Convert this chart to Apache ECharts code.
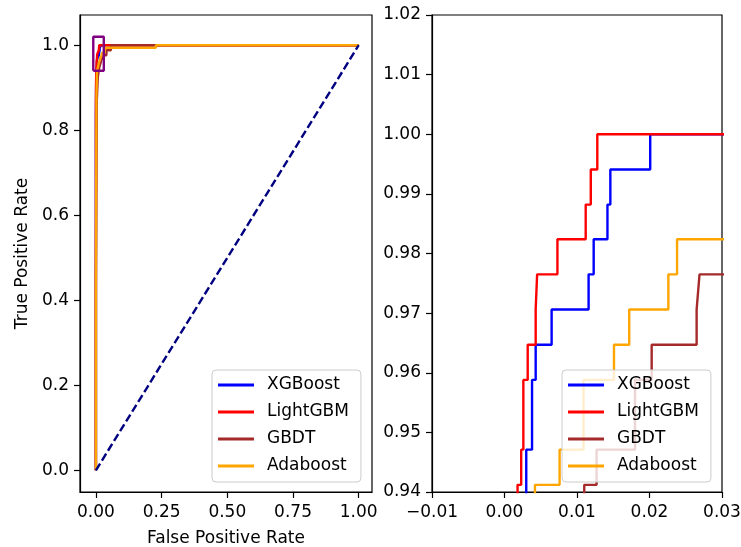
<!DOCTYPE html>
<html>
<head>
<meta charset="utf-8">
<script src="https://cdn.jsdelivr.net/npm/echarts@6/dist/echarts.min.js"></script>
<style>
  html, body { margin: 0; padding: 0; background: #fff; }
  #chart { width: 741px; height: 547px; }
</style>
</head>
<body>
<div id="chart"></div>
<script>
// ROC data (fpr / tpr corner points)
const models = ['XGBoost', 'LightGBM', 'GBDT', 'Adaboost']
const colors = ['#0000ff', '#ff0000', '#a52a2a', '#ffa500']

const xgbFpr = [0, 0, 0.0009, 0.0009, 0.0018, 0.0018, 0.0030, 0.0030, 0.0038, 0.0038, 0.0043, 0.0043, 0.0065, 0.0065, 0.0116, 0.0116, 0.0123, 0.0123, 0.0142, 0.0142, 0.0146, 0.0146, 0.0201, 0.0201, 1.0]
const xgbTpr = [0, 0.8235, 0.8235, 0.9059, 0.9059, 0.9294, 0.9294, 0.9471, 0.9471, 0.9588, 0.9588, 0.9647, 0.9647, 0.9706, 0.9706, 0.9765, 0.9765, 0.9824, 0.9824, 0.9882, 0.9882, 0.9941, 0.9941, 1.0, 1.0]

const lgbFpr = [0, 0, 0.0007, 0.0007, 0.0014, 0.0014, 0.0018, 0.0018, 0.0023, 0.0023, 0.0026, 0.0026, 0.0032, 0.0032, 0.0043, 0.0043, 0.0045, 0.0045, 0.0073, 0.0073, 0.0112, 0.0112, 0.0119, 0.0119, 0.0128, 0.0128, 1.0]
const lgbTpr = [0, 0.8647, 0.8647, 0.9176, 0.9176, 0.9353, 0.9353, 0.9412, 0.9412, 0.9471, 0.9471, 0.9588, 0.9588, 0.9647, 0.9647, 0.9706, 0.9706, 0.9765, 0.9765, 0.9824, 0.9824, 0.9882, 0.9882, 0.9941, 0.9941, 1.0, 1.0]

const gbdtFpr = [0, 0, 0.0035, 0.0035, 0.0071, 0.0071, 0.0110, 0.0110, 0.0127, 0.0127, 0.0180, 0.0180, 0.0203, 0.0203, 0.0265, 0.0265, 0.0269, 0.0400, 0.0400, 0.0570, 0.0570, 1.0]
const gbdtTpr = [0, 0.4588, 0.4588, 0.8706, 0.8706, 0.9235, 0.9235, 0.9412, 0.9412, 0.9471, 0.9471, 0.9588, 0.9588, 0.9647, 0.9647, 0.9706, 0.9765, 0.9765, 0.9882, 0.9882, 1.0, 1.0]

const adaFpr = [0, 0, 0.0021, 0.0021, 0.0042, 0.0042, 0.0076, 0.0076, 0.0109, 0.0109, 0.0151, 0.0151, 0.0172, 0.0172, 0.0226, 0.0226, 0.0238, 0.0238, 0.0330, 0.0330, 0.0380, 0.0380, 0.2280, 0.2280, 1.0]
const adaTpr = [0, 0.4118, 0.4118, 0.8824, 0.8824, 0.9412, 0.9412, 0.9471, 0.9471, 0.9588, 0.9588, 0.9647, 0.9647, 0.9706, 0.9706, 0.9765, 0.9765, 0.9824, 0.9824, 0.9882, 0.9882, 0.9941, 0.9941, 1.0, 1.0]

const chanceFpr = [0, 1]
const chanceTpr = [0, 1]

// zoom window shown on the right (also the purple box on the left)
const zoomX = [-0.01, 0.03]
const zoomY = [0.94, 1.02]

const leftXTicks = [0, 0.25, 0.5, 0.75, 1.0]
const leftYTicks = [0, 0.2, 0.4, 0.6, 0.8, 1.0]
const rightXTicks = [-0.01, 0, 0.01, 0.02, 0.03]
const rightYTicks = [0.94, 0.95, 0.96, 0.97, 0.98, 0.99, 1.0, 1.01, 1.02]

const curves = [
  [xgbFpr, xgbTpr],
  [lgbFpr, lgbTpr],
  [gbdtFpr, gbdtTpr],
  [adaFpr, adaTpr]
]

const toPoints = (xs, ys) => xs.map((x, i) => [x, ys[i]])
const FONT = 'DejaVu Sans'
const LW = 2.4
const fmt = (d) => (v) => (v < 0 ? '\u2212' : '') + Math.abs(v).toFixed(d)

const boxPoints = [
  [zoomX[0], zoomY[0]], [zoomX[1], zoomY[0]], [zoomX[1], zoomY[1]],
  [zoomX[0], zoomY[1]], [zoomX[0], zoomY[0]]
]

const axisBase = (ticks, digits, margin) => ({
  type: 'value',
  splitLine: { show: false },
  axisLine: { show: true, onZero: false, lineStyle: { color: '#000', width: 1.2 } },
  axisTick: { show: true, length: 6, customValues: ticks, lineStyle: { color: '#000', width: 1.2 } },
  axisLabel: {
    customValues: ticks,
    formatter: fmt(digits),
    color: '#000',
    fontFamily: FONT,
    fontSize: 17,
    margin: margin
  }
})

const legendBase = (left) => ({
  orient: 'vertical',
  left: left,
  top: 370,
  data: models,
  icon: 'rect',
  itemWidth: 36,
  itemHeight: 3,
  itemGap: 7,
  padding: [5, 12, 6, 6],
  backgroundColor: 'rgba(255,255,255,0.8)',
  borderColor: '#cccccc',
  borderWidth: 1,
  borderRadius: 4,
  textStyle: {
    color: '#000',
    fontFamily: FONT,
    fontSize: 17,
    lineHeight: 20,
    padding: [0, 0, 0, 8]
  }
})

const series = []
// left: full ROC curves
curves.forEach(([xs, ys], i) => {
  series.push({
    name: models[i], type: 'line', xAxisIndex: 0, yAxisIndex: 0,
    data: toPoints(xs, ys), showSymbol: false, symbol: 'none',
    lineStyle: { color: colors[i], width: LW }, itemStyle: { color: colors[i] }
  })
})
series.push({
  name: 'chance', type: 'line', xAxisIndex: 0, yAxisIndex: 0,
  data: toPoints(chanceFpr, chanceTpr), showSymbol: false, symbol: 'none',
  lineStyle: { color: '#000080', width: LW, type: [8, 3.5] }
})
series.push({
  name: 'zoom', type: 'line', xAxisIndex: 0, yAxisIndex: 0,
  data: boxPoints, showSymbol: false, symbol: 'none',
  lineStyle: { color: '#800080', width: LW }
})
// right: zoomed view
curves.forEach(([xs, ys], i) => {
  series.push({
    name: models[i], type: 'line', xAxisIndex: 1, yAxisIndex: 1,
    data: toPoints(xs, ys), showSymbol: false, symbol: 'none', clip: true,
    lineStyle: { color: colors[i], width: LW }, itemStyle: { color: colors[i] }
  })
})

const chart = echarts.init(document.getElementById('chart'))
chart.setOption({
  animation: false,
  backgroundColor: '#fff',
  grid: [
    { left: 80, top: 15, width: 292, height: 477, outerBoundsMode: 'none', show: true, borderColor: '#000', borderWidth: 1.2, backgroundColor: 'transparent' },
    { left: 432, top: 15, width: 290, height: 477, outerBoundsMode: 'none', show: true, borderColor: '#000', borderWidth: 1.2, backgroundColor: 'transparent' }
  ],
  xAxis: [
    Object.assign(axisBase(leftXTicks, 2, 12), {
      gridIndex: 0, min: -0.0605, max: 1.0505,
      name: 'False Positive Rate', nameLocation: 'middle', nameGap: 38,
      nameTextStyle: { color: '#000', fontFamily: FONT, fontSize: 17 }
    }),
    Object.assign(axisBase(rightXTicks, 2, 12), {
      gridIndex: 1, min: zoomX[0], max: zoomX[1]
    })
  ],
  yAxis: [
    Object.assign(axisBase(leftYTicks, 1, 11), {
      gridIndex: 0, min: -0.051, max: 1.071,
      name: 'True Positive Rate', nameLocation: 'middle', nameGap: 49, nameRotate: 90,
      nameTextStyle: { color: '#000', fontFamily: FONT, fontSize: 17 }
    }),
    Object.assign(axisBase(rightYTicks, 2, 11), {
      gridIndex: 1, min: zoomY[0], max: zoomY[1]
    })
  ],
  legend: [legendBase(212), legendBase(562)],
  series: series
})
</script>
</body>
</html>
